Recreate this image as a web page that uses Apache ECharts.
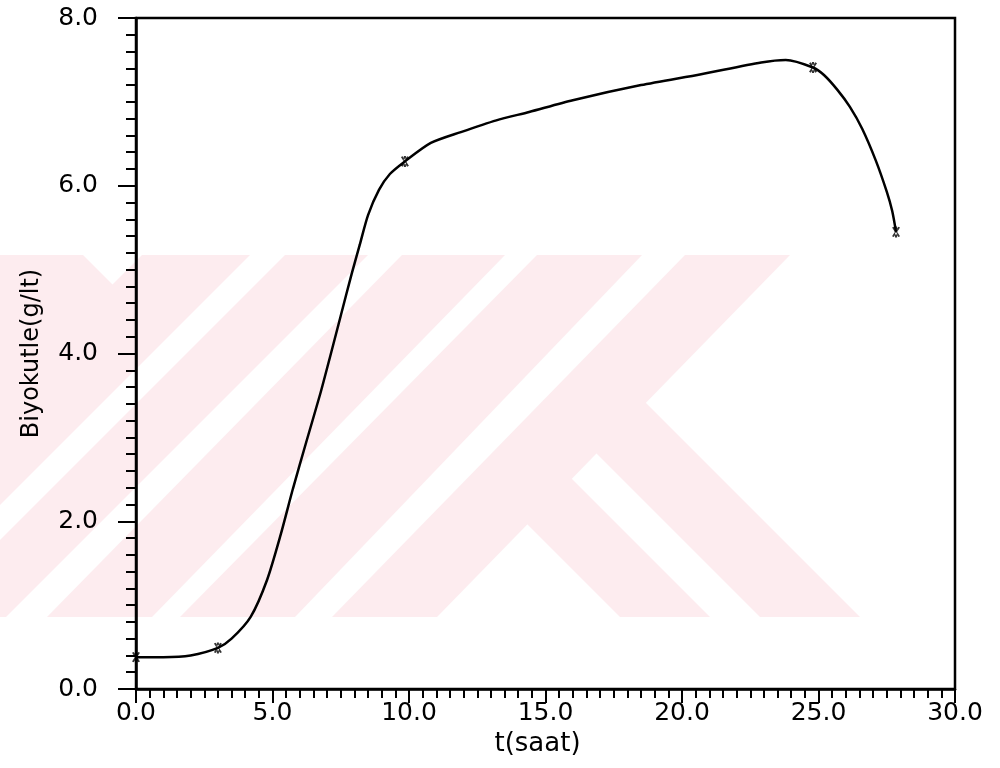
<!DOCTYPE html>
<html>
<head>
<meta charset="utf-8">
<script src="https://cdn.jsdelivr.net/npm/echarts@6/dist/echarts.min.js"></script>
<style>
html,body{margin:0;padding:0;background:#fff;}
#c{width:1000px;height:768px;}
</style>
</head>
<body>
<div id="c"></div>
<script>
// fitted curve
var curveT = [0, 1, 2, 3, 3.5, 4.2, 4.8, 5.3, 5.75, 6.25, 6.75, 7.1, 7.5, 7.9, 8.2, 8.5, 8.9, 9.3, 9.85, 10.8, 11.9, 13.2, 14.4, 16.0, 18.5, 20.7, 22.9, 23.8, 24.8, 25.2, 25.7, 26.15, 26.6, 27.1, 27.5, 27.7, 27.84];
var curveB = [0.38, 0.38, 0.40, 0.49, 0.60, 0.86, 1.30, 1.84, 2.39, 2.96, 3.52, 3.95, 4.45, 4.95, 5.30, 5.65, 5.95, 6.14, 6.29, 6.51, 6.64, 6.78, 6.88, 7.02, 7.20, 7.33, 7.47, 7.50, 7.41, 7.32, 7.14, 6.94, 6.68, 6.30, 5.93, 5.70, 5.45];
// measured points
var pointT = [0, 3, 9.85, 24.8, 27.84];
var pointB = [0.38, 0.49, 6.29, 7.41, 5.45];
var xTicks = [0, 5, 10, 15, 20, 25, 30];
var yTicks = [0, 2, 4, 6, 8];

function pairs(a, b) { return a.map(function (v, i) { return [v, b[i]]; }); }

// light background watermark (decoration, pixel shapes)
var wmColor = '#fdecef';
var wmShapes = [
  [[142,255],[250,255],[-112,617],[-220,617]],
  [[285,255],[368,255],[6,617],[-77,617]],
  [[402,255],[505,255],[152,617],[47,617]],
  [[537,255],[642,255],[295,617],[180,617]],
  [[685,255],[790,255],[437,617],[332,617]],
  [[475,472],[565,472],[710,617],[620,617]],
  [[543,400],[643,400],[860,617],[760,617]],
  [[0,255],[83,255],[139,311],[0,450]]
];
var graphics = wmShapes.map(function (pts) {
  return {type: 'polygon', z: -10, silent: true, shape: {points: pts}, style: {fill: wmColor}};
});

var chart = echarts.init(document.getElementById('c'), null, {renderer: 'canvas'});
var font = '"DejaVu Sans", sans-serif';
var star = 'path://M-1,-6L1,-6L1,6L-1,6Z M2.134,5.696L3.866,4.696L-2.134,-5.696L-3.866,-4.696Z M-3.866,4.696L-2.134,5.696L3.866,-4.696L2.134,-5.696Z';
chart.setOption({
  backgroundColor: '#fff',
  animation: false,
  graphic: graphics,
  grid: {left: 136, right: 45, top: 18, bottom: 79, show: true, borderColor: '#000', borderWidth: 2.5, backgroundColor: 'transparent'},
  xAxis: {
    type: 'value', min: xTicks[0], max: xTicks[xTicks.length - 1], interval: 5,
    name: 't(saat)', nameLocation: 'middle', nameGap: 42,
    nameTextStyle: {fontFamily: font, fontSize: 26, color: '#000', padding: [0, 16, 0, 0]},
    axisLine: {lineStyle: {color: '#000', width: 2.5}},
    axisTick: {inside: false, length: 14, lineStyle: {color: '#000', width: 2}},
    minorTick: {show: true, splitNumber: 10, length: 9, lineStyle: {color: '#000', width: 2}},
    axisLabel: {margin: 12, fontFamily: font, fontSize: 25, color: '#000', formatter: function (v) { return v.toFixed(1); }},
    splitLine: {show: false}
  },
  yAxis: {
    type: 'value', min: yTicks[0], max: yTicks[yTicks.length - 1], interval: 2,
    name: 'Biyokutle(g/lt)', nameLocation: 'middle', nameGap: 92,
    nameTextStyle: {fontFamily: font, fontSize: 24, color: '#000'},
    axisLine: {lineStyle: {color: '#000', width: 2.5}},
    axisTick: {inside: false, length: 18, lineStyle: {color: '#000', width: 2}},
    minorTick: {show: true, splitNumber: 10, length: 10, lineStyle: {color: '#000', width: 2}},
    axisLabel: {margin: 38, fontFamily: font, fontSize: 25, color: '#000', formatter: function (v) { return v.toFixed(1); }},
    splitLine: {show: false}
  },
  series: [
    {
      type: 'line', data: pairs(curveT, curveB), smooth: 0.25, showSymbol: false, symbol: 'none',
      lineStyle: {color: '#000', width: 2.5}, z: 3
    },
    {
      type: 'scatter', data: pairs(pointT, pointB), symbol: star,
      symbolSize: [8, 11], itemStyle: {color: '#000'}, z: 4
    }
  ]
});
</script>
</body>
</html>
